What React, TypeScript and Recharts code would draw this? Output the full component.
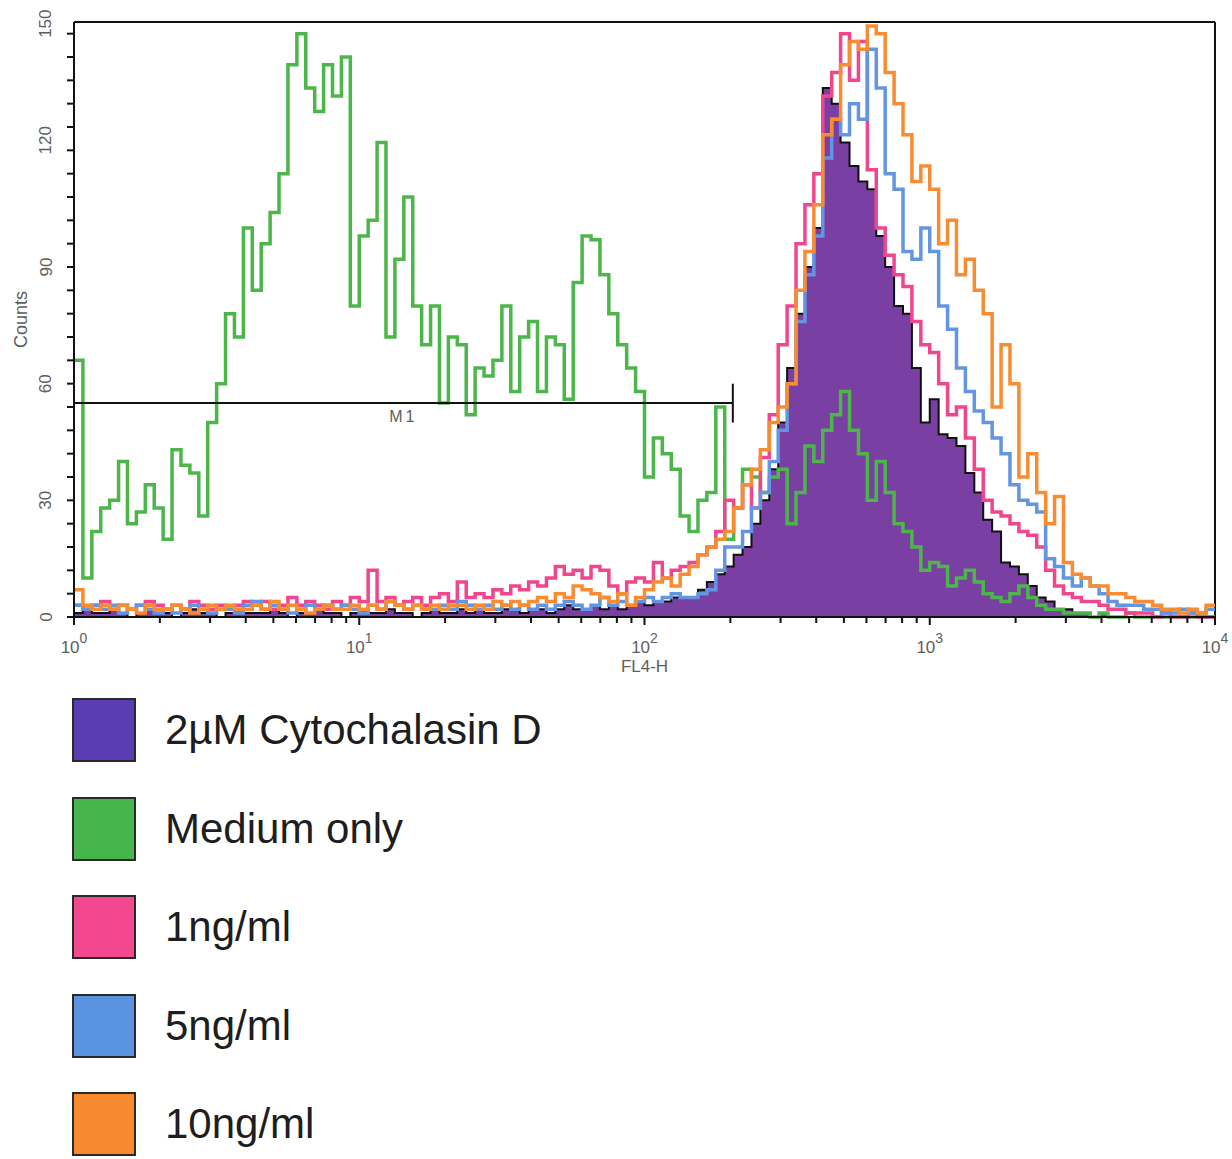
import {
  ComposedChart,
  Area,
  Line,
  XAxis,
  YAxis,
  ReferenceLine,
} from 'recharts';

// histogram channels: 32 log bins per decade, 10^0 .. 10^4
const BINS_PER_DECADE = 32;
const BIN_COUNT = 128;

// counts per channel
const cytoD = [
  1, 2, 1, 1, 2, 1, 0, 1, 2, 1,
  1, 0, 1, 2, 1, 1, 0, 1, 2, 1,
  1, 1, 2, 1, 0, 1, 1, 2, 1, 1,
  0, 1, 2, 1, 1, 2, 1, 1, 0, 1,
  2, 1, 1, 2, 1, 2, 1, 1, 2, 2,
  1, 2, 2, 1, 2, 3, 2, 2, 3, 2,
  3, 2, 3, 4, 3, 4, 4, 5, 5, 5,
  7, 9, 11, 13, 16, 18, 24, 30, 38, 50,
  64, 78, 90, 100, 136, 132, 122, 116, 112, 110,
  98, 90, 80, 78, 64, 50, 56, 47, 46, 44,
  37, 32, 25, 22, 14, 13, 11, 8, 5, 4,
  2, 2, 1, 1, 0, 1, 0, 0, 0, 0,
  0, 0, 0, 0, 0, 0, 0, 0,
];

const mediumOnly = [
  66, 10, 22, 28, 30, 40, 24, 27, 34, 28,
  20, 43, 39, 37, 26, 50, 60, 78, 72, 100,
  84, 96, 104, 114, 142, 150, 136, 130, 142, 134,
  144, 80, 98, 102, 122, 72, 92, 108, 80, 70,
  80, 55, 72, 70, 52, 64, 62, 66, 80, 58,
  72, 76, 58, 72, 70, 56, 86, 98, 97, 88,
  78, 70, 64, 58, 36, 46, 42, 38, 26, 22,
  30, 32, 54, 20, 28, 38, 36, 32, 36, 38,
  24, 32, 44, 40, 48, 52, 58, 48, 42, 30,
  40, 32, 24, 22, 18, 12, 14, 13, 8, 10,
  12, 9, 6, 5, 4, 6, 8, 5, 3, 2,
  2, 1, 1, 1, 0, 1, 0, 0, 1, 0,
  0, 0, 0, 0, 0, 0, 0, 0,
];

const ng1 = [
  3, 2, 3, 4, 2, 3, 2, 3, 4, 3,
  2, 3, 2, 4, 3, 2, 3, 2, 3, 4,
  3, 4, 2, 3, 5, 3, 4, 3, 2, 4,
  3, 5, 4, 12, 4, 5, 3, 4, 5, 3,
  5, 6, 4, 9, 5, 6, 5, 7, 6, 8,
  7, 9, 8, 10, 13, 11, 12, 10, 13, 12,
  8, 6, 9, 10, 9, 14, 10, 12, 13, 14,
  16, 18, 22, 30, 28, 34, 28, 41, 52, 70,
  80, 96, 106, 114, 134, 140, 150, 138, 148, 115,
  100, 93, 88, 85, 76, 70, 68, 60, 52, 54,
  46, 38, 30, 27, 26, 24, 22, 21, 18, 12,
  8, 6, 5, 4, 4, 3, 2, 2, 1, 1,
  1, 0, 1, 0, 0, 1, 0, 0,
];

const ng5 = [
  3, 2, 3, 2, 3, 1, 2, 3, 2, 1,
  2, 1, 2, 3, 2, 1, 2, 2, 1, 3,
  4, 2, 3, 2, 1, 2, 3, 2, 3, 2,
  3, 2, 1, 3, 2, 4, 3, 2, 3, 2,
  2, 3, 2, 4, 3, 2, 3, 2, 3, 2,
  3, 2, 3, 2, 3, 4, 3, 2, 3, 5,
  3, 4, 3, 4, 5, 4, 5, 6, 5, 5,
  6, 7, 12, 18, 18, 22, 28, 32, 40, 48,
  60, 76, 88, 98, 118, 128, 124, 132, 128, 146,
  136, 114, 110, 94, 92, 100, 94, 80, 74, 64,
  58, 53, 50, 46, 42, 34, 30, 29, 27, 15,
  13, 10, 8, 10, 8, 6, 4, 3, 3, 3,
  2, 2, 1, 1, 2, 1, 1, 2,
];

const ng10 = [
  7, 3, 2, 3, 2, 3, 2, 1, 3, 2,
  2, 3, 2, 1, 2, 3, 2, 3, 2, 2,
  3, 2, 4, 2, 3, 2, 1, 2, 3, 2,
  2, 3, 2, 3, 2, 4, 3, 2, 3, 2,
  3, 2, 3, 3, 2, 3, 2, 4, 3, 4,
  3, 4, 5, 4, 6, 5, 8, 7, 6, 5,
  4, 6, 3, 5, 7, 9, 10, 8, 11, 13,
  16, 18, 20, 22, 28, 34, 38, 43, 50, 54,
  60, 84, 94, 106, 124, 128, 142, 148, 146, 152,
  150, 140, 132, 124, 112, 116, 110, 96, 102, 88,
  92, 84, 78, 54, 70, 60, 36, 42, 32, 24,
  31, 14, 11, 10, 8, 8, 6, 6, 5, 4,
  4, 3, 2, 2, 1, 2, 1, 3,
];

const series = [
  { key: 'cyto', name: '2\u00b5M Cytochalasin D', values: cytoD, color: '#7a3fa2', swatch: '#5a3db3' },
  { key: 'medium', name: 'Medium only', values: mediumOnly, color: '#4cb64a', swatch: '#46b54b' },
  { key: 'ng1', name: '1ng/ml', values: ng1, color: '#f0468d', swatch: '#f2488f' },
  { key: 'ng5', name: '5ng/ml', values: ng5, color: '#6495e2', swatch: '#5a93e0' },
  { key: 'ng10', name: '10ng/ml', values: ng10, color: '#f88c33', swatch: '#f7892f' },
];

const xMajor = [1, 10, 100, 1000, 10000];
const yMajor = [0, 30, 60, 90, 120, 150];
const Y_MAX = 153;

// M1 marker gate
const m1Gate = { from: 1, to: 204, level: 55, low: 50, high: 60 };

const xTicks: number[] = [];
[1, 10, 100, 1000].forEach((d) => {
  for (let m = 1; m <= 9; m++) xTicks.push(d * m);
});
xTicks.push(10000);
const yTicks: number[] = [];
for (let v = 0; v <= 150; v += 6) yTicks.push(v);

// one row per bin edge; last edge closes the final bin
const rows = Array.from({ length: BIN_COUNT + 1 }, (_, i) => {
  const j = Math.min(i, BIN_COUNT - 1);
  const row: Record<string, number> = { x: Math.pow(10, i / BINS_PER_DECADE) };
  series.forEach((s) => {
    row[s.key] = s.values[j];
  });
  return row;
});

const FONT = '"Liberation Sans", Arial, sans-serif';
const TEXT = '#5e5e5e';
const PLOT_TOP = 22;
const PLOT_BOTTOM = 617;

function XTick(props: any) {
  const { x, y, payload } = props;
  const k = xMajor.indexOf(payload.value);
  return (
    <g>
      <line x1={x} x2={x} y1={y} y2={y + (k >= 0 ? 8 : 6)} stroke="#111" strokeWidth={2} />
      {k >= 0 && (
        <text x={x} y={y + 36} textAnchor="middle" fontSize={17} fill={TEXT} fontFamily={FONT}>
          10
          <tspan dy={-10} fontSize={14}>
            {k}
          </tspan>
        </text>
      )}
    </g>
  );
}

function YTick(props: any) {
  const { x, y, payload } = props;
  const v = payload.value;
  const major = yMajor.includes(v);
  const label = String(v);
  const cx = x - 28;
  const cy = label.length >= 3 ? y - 10 : y;
  return (
    <g>
      <line x1={x - 7} x2={x} y1={y} y2={y} stroke="#111" strokeWidth={2} />
      {major && (
        <text
          x={cx}
          y={cy}
          transform={`rotate(-90 ${cx} ${cy})`}
          textAnchor="middle"
          dominantBaseline="central"
          fontSize={17}
          fill={TEXT}
          fontFamily={FONT}
        >
          {label}
        </text>
      )}
    </g>
  );
}

function CountsLabel() {
  const cx = 21;
  const cy = (PLOT_TOP + PLOT_BOTTOM) / 2;
  return (
    <text
      x={cx}
      y={cy}
      transform={`rotate(-90 ${cx} ${cy})`}
      textAnchor="middle"
      dominantBaseline="central"
      fontSize={18}
      fill={TEXT}
      fontFamily={FONT}
    >
      Counts
    </text>
  );
}

export default function App() {
  return (
    <div style={{ position: 'absolute', left: 0, top: 0, width: 1232, height: 1159, background: '#fff' }}>
      <ComposedChart
        width={1232}
        height={700}
        data={rows}
        margin={{ top: PLOT_TOP, right: 17, left: 0, bottom: 0 }}
      >
        <XAxis
          dataKey="x"
          type="number"
          scale="log"
          domain={[1, 10000]}
          ticks={xTicks}
          interval={0}
          tickSize={0}
          tickMargin={0}
          tick={<XTick />}
          height={700 - PLOT_BOTTOM}
          axisLine={{ stroke: '#111', strokeWidth: 2 }}
          label={{ value: 'FL4-H', position: 'insideTop', offset: 43, fill: TEXT, fontSize: 17, fontFamily: FONT }}
        />
        <YAxis
          type="number"
          domain={[0, Y_MAX]}
          ticks={yTicks}
          interval={0}
          tickSize={0}
          tickMargin={0}
          tick={<YTick />}
          width={74}
          axisLine={{ stroke: '#111', strokeWidth: 2 }}
          label={<CountsLabel />}
        />
        <ReferenceLine y={Y_MAX} stroke="#111" strokeWidth={2} />
        <ReferenceLine x={10000} stroke="#111" strokeWidth={2} />
        <Area
          dataKey="cyto"
          type="stepAfter"
          fill={series[0].color}
          fillOpacity={1}
          stroke="#111"
          strokeWidth={2}
          isAnimationActive={false}
        />
        {series.slice(1).map((s) => (
          <Line
            key={s.key}
            dataKey={s.key}
            type="stepAfter"
            stroke={s.color}
            strokeWidth={3.5}
            dot={false}
            isAnimationActive={false}
          />
        ))}
        <ReferenceLine
          segment={[{ x: m1Gate.from, y: m1Gate.level }, { x: m1Gate.to, y: m1Gate.level }]}
          stroke="#111"
          strokeWidth={2}
          label={{ value: 'M1', position: 'bottom', offset: 8, fill: TEXT, fontSize: 16, fontFamily: FONT, letterSpacing: 3 }}
        />
        <ReferenceLine
          segment={[{ x: m1Gate.to, y: m1Gate.low }, { x: m1Gate.to, y: m1Gate.high }]}
          stroke="#111"
          strokeWidth={2}
        />
      </ComposedChart>

      <div style={{ position: 'absolute', left: 72, top: 698, fontFamily: FONT }}>
        {series.map((s) => (
          <div key={s.key} style={{ display: 'flex', alignItems: 'center', height: 64, marginBottom: 34.5 }}>
            <div
              style={{
                width: 64,
                height: 64,
                boxSizing: 'border-box',
                border: '2px solid #2a2a2a',
                background: s.swatch,
              }}
            />
            <span style={{ marginLeft: 29, fontSize: 42, color: '#1e1e1e', lineHeight: '64px' }}>{s.name}</span>
          </div>
        ))}
      </div>
    </div>
  );
}
